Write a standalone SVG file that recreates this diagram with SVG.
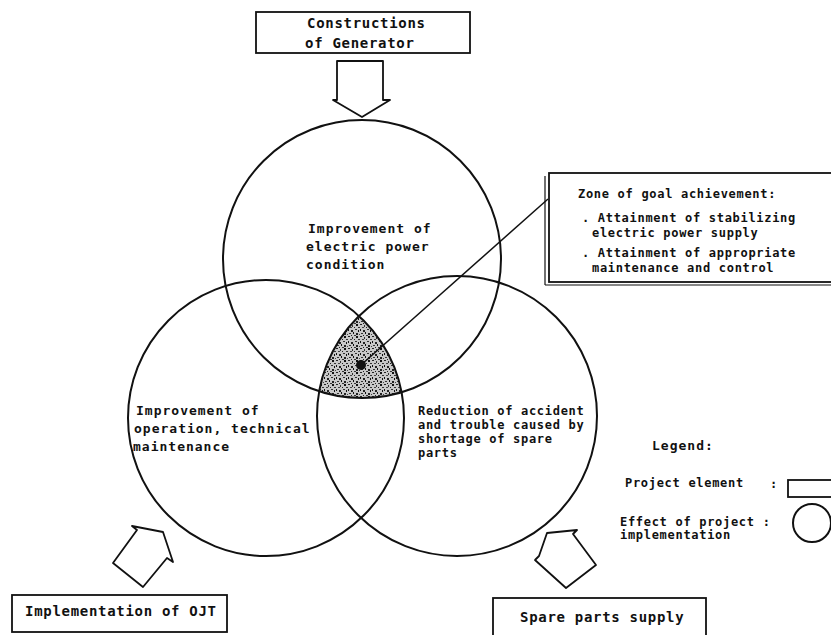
<svg xmlns="http://www.w3.org/2000/svg" width="831" height="635" viewBox="0 0 831 635">
<style>
  .t { font-family: "DejaVu Sans Mono", "Liberation Mono", monospace; font-weight: bold; fill: #111; }
  .s14 { font-size: 14px; letter-spacing: 0.7px; }
  .s13 { font-size: 13px; letter-spacing: 1px; }
  .s12 { font-size: 12px; letter-spacing: 0.7px; }
  .circ { fill: none; stroke: #111; stroke-width: 2; }
  .box { fill: #fff; stroke: #111; stroke-width: 1.8; }
  .arrow { fill: #fff; stroke: #111; stroke-width: 1.8; stroke-linejoin: round; }
</style>
<defs>
  <clipPath id="clipTop"><circle cx="362" cy="259" r="139"/></clipPath>
  <clipPath id="clipRight"><circle cx="457" cy="416" r="140"/></clipPath>
  <pattern id="stipple" patternUnits="userSpaceOnUse" width="12" height="12">
    <rect width="12" height="12" fill="#c8c8c8"/>
    <rect x="0" y="0" width="2" height="1" fill="#222"/>
    <rect x="4" y="1" width="1" height="2" fill="#333"/>
    <rect x="8" y="0" width="2" height="2" fill="#111"/>
    <rect x="2" y="3" width="2" height="1" fill="#444"/>
    <rect x="6" y="3" width="1" height="1" fill="#222"/>
    <rect x="10" y="3" width="2" height="1" fill="#333"/>
    <rect x="0" y="5" width="1" height="2" fill="#111"/>
    <rect x="3" y="6" width="2" height="2" fill="#222"/>
    <rect x="7" y="5" width="2" height="1" fill="#333"/>
    <rect x="10" y="6" width="1" height="2" fill="#111"/>
    <rect x="1" y="9" width="2" height="1" fill="#333"/>
    <rect x="5" y="8" width="1" height="2" fill="#111"/>
    <rect x="8" y="9" width="2" height="2" fill="#222"/>
    <rect x="11" y="10" width="1" height="1" fill="#444"/>
    <rect x="3" y="11" width="1" height="1" fill="#222"/>
    <rect x="6" y="11" width="2" height="1" fill="#333"/>
  </pattern>
</defs>
<rect width="831" height="635" fill="#fff"/>

<!-- shaded zone: intersection of three circles -->
<g id="zone-shade" clip-path="url(#clipTop)">
  <circle cx="266" cy="418" r="138" fill="url(#stipple)" clip-path="url(#clipRight)"/>
</g>

<g id="circle-top">
  <circle class="circ" cx="362" cy="259" r="139"/>
  <text class="t s13" x="308" y="233">Improvement of</text>
  <text class="t s13" x="306" y="251">electric power</text>
  <text class="t s13" x="306" y="269">condition</text>
</g>
<g id="circle-left">
  <circle class="circ" cx="266" cy="418" r="138"/>
  <text class="t s13" x="136" y="415">Improvement of</text>
  <text class="t s13" x="134" y="433">operation, technical</text>
  <text class="t s13" x="133" y="451">maintenance</text>
</g>
<g id="circle-right">
  <circle class="circ" cx="457" cy="416" r="140"/>
  <text class="t s12" x="418" y="415">Reduction of accident</text>
  <text class="t s12" x="418" y="429">and trouble caused by</text>
  <text class="t s12" x="418" y="443">shortage of spare</text>
  <text class="t s12" x="418" y="457">parts</text>
</g>

<g id="connectors">
  <line x1="361" y1="365" x2="548" y2="199" stroke="#111" stroke-width="1.5"/>
  <circle cx="361" cy="365" r="5" fill="#111"/>
  <polygon class="arrow" points="337,61 383,61 383,100 390,100 362,117 333,100 337,100"/>
  <polygon class="arrow" points="163,532 132,526 137,530 113,563 143,587 167,558 173,562"/>
  <polygon class="arrow" points="547,533 577,530 573,534 596,565 566,588 535,560 539,556"/>
</g>

<g id="box-generator">
  <rect class="box" x="256" y="12" width="214" height="41"/>
  <text class="t s14" x="307" y="28">Constructions</text>
  <text class="t s14" x="305" y="48">of Generator</text>
</g>

<g id="box-zone">
  <line x1="545" y1="176" x2="545" y2="285" stroke="#111" stroke-width="1.2"/>
  <line x1="545" y1="285" x2="831" y2="285" stroke="#111" stroke-width="1.2"/>
  <rect class="box" x="549" y="173" width="290" height="109"/>
  <text class="t s12" x="578" y="198">Zone of goal achievement:</text>
  <text class="t s12" x="582" y="222">. Attainment of stabilizing</text>
  <text class="t s12" x="592" y="237">electric power supply</text>
  <text class="t s12" x="582" y="257">. Attainment of appropriate</text>
  <text class="t s12" x="592" y="272">maintenance and control</text>
</g>

<g id="box-ojt">
  <rect class="box" x="12" y="595" width="215" height="37"/>
  <text class="t s14" x="25" y="616">Implementation of OJT</text>
</g>

<g id="box-spare">
  <rect class="box" x="493" y="598" width="213" height="50"/>
  <text class="t s14" x="520" y="622">Spare parts supply</text>
</g>

<g id="legend">
  <text class="t s13" x="652" y="450">Legend:</text>
  <text class="t s12" x="625" y="487">Project element</text>
  <text class="t s12" x="770" y="488">:</text>
  <rect class="box" x="788" y="480" width="60" height="17"/>
  <text class="t s12" x="620" y="526">Effect of project :</text>
  <text class="t s12" x="620" y="539">implementation</text>
  <circle class="circ" cx="812" cy="523" r="19"/>
</g>
</svg>
